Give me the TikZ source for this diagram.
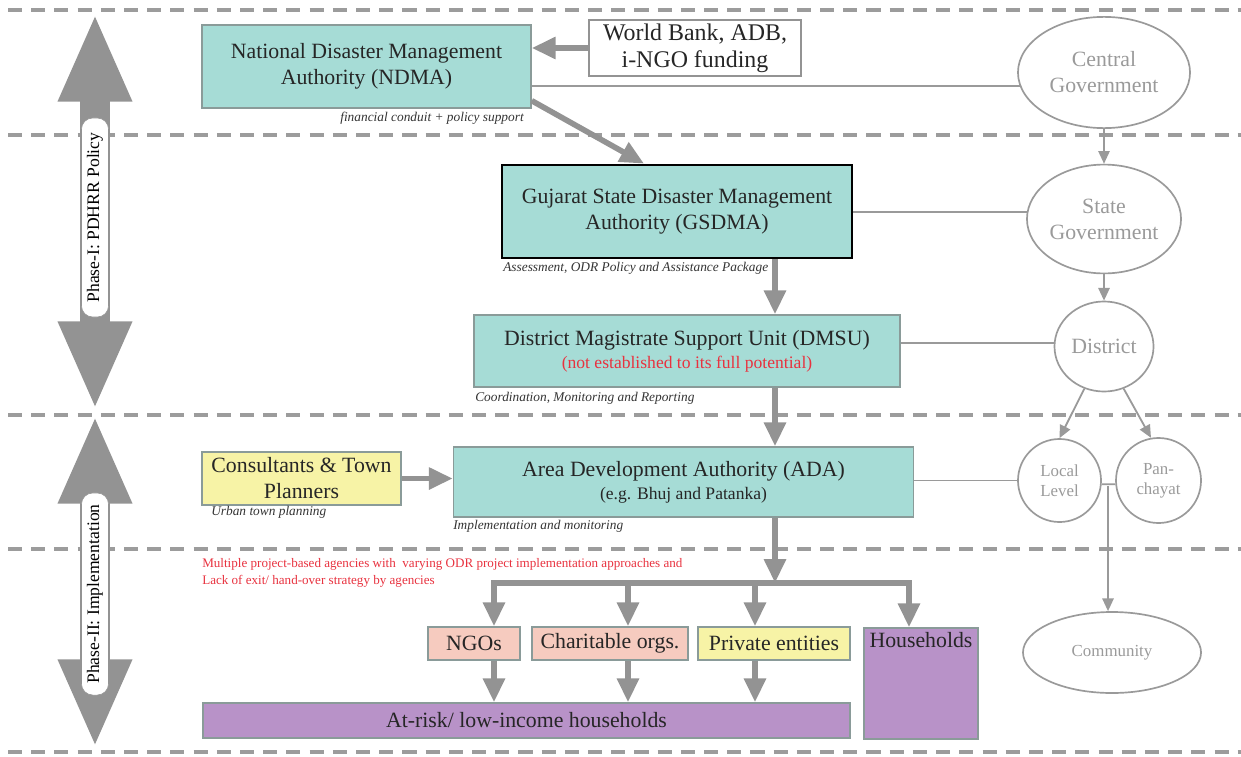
\documentclass[tikz,border=0pt]{standalone}
\usepackage{fontspec}
\setmainfont{Liberation Serif}
\usetikzlibrary{arrows.meta,shapes.geometric}
\definecolor{tealbox}{HTML}{A6DCD6}
\definecolor{yelbox}{HTML}{F7F3A6}
\definecolor{pinkbox}{HTML}{F6CBBF}
\definecolor{purpbox}{HTML}{B892C8}
\definecolor{arrgray}{HTML}{939393}
\definecolor{dashgray}{HTML}{9C9C9C}
\definecolor{ellgray}{HTML}{9A9A9A}
\definecolor{redtxt}{HTML}{E8323F}
\definecolor{boxline}{HTML}{8A9B99}
\begin{document}
\begin{tikzpicture}[x=0.025cm,y=-0.025cm,
box/.style={draw=boxline,line width=1pt,fill=tealbox,align=center,text=black!85,font=\fontsize{15.5}{18.5}\selectfont,inner sep=0pt},
ell/.style={draw=ellgray,ellipse,line width=1.2pt,align=center,text=ellgray,font=\fontsize{15.5}{18.5}\selectfont,inner sep=0pt},
note/.style={font=\fontsize{9.5}{11}\selectfont\itshape,text=black!80,inner sep=0pt},
fat/.style={draw=arrgray,line width=4pt,-{Triangle[length=17pt,width=15pt]}},
thinline/.style={draw=ellgray,line width=1.3pt},
thinarr/.style={thinline,-{Triangle[length=9pt,width=8pt]}},
divline/.style={draw=dashgray,line width=2.8pt,dash pattern=on 10pt off 6.5pt},
phase/.style={draw=arrgray,line width=21pt,{Triangle[length=63pt,width=48pt]}-{Triangle[length=63pt,width=48pt]}},
phaselbl/.style={draw=arrgray,fill=white,rounded corners=8pt,rotate=90,font=\fontsize{12.5}{15}\selectfont,minimum height=0.675cm,inner sep=0pt}]
\useasboundingbox (0,0) rectangle (1241,756);
\foreach \y in {10,135,415,549,752} \draw[divline] (8,\y) -- (1241,\y);
\draw[phase] (95,410) -- (95,13);
\node[phaselbl,minimum width=4.975cm] (P1) at (95,217.5) {Phase-I: PDHRR Policy};
\draw[phase] (95,415) -- (95,748);
\node[phaselbl,minimum width=5.05cm] (P2) at (95,594) {Phase-II: Implementation};
\node[box,minimum width=8.225cm,minimum height=2.075cm] (NDMA) at (366.5,66.5) {National Disaster Management\\Authority (NDMA)};
\node[box,fill=white,draw=arrgray,font=\fontsize{17}{19.5}\selectfont,minimum width=5.3cm,minimum height=1.4cm] (WB) at (695,48) {World Bank, ADB,\\i-NGO funding};
\node[ell,minimum width=4.3cm,minimum height=2.78cm] (CG) at (1104,72.5) {Central\\Government};
\node[box,draw=black,line width=2pt,minimum width=8.75cm,minimum height=2.325cm] (GSDMA) at (677,211.5) {Gujarat State Disaster Management\\Authority (GSDMA)};
\node[ell,minimum width=3.55cm,minimum height=2.72cm] (SG) at (1104,219) {State\\Government};
\node[box,minimum width=10.65cm,minimum height=1.8cm] (DMSU) at (687,351) {District Magistrate Support Unit (DMSU)\\[-2pt]{\fontsize{12.5}{15}\selectfont\color{redtxt}(not established to its full potential)}};
\node[ell,minimum width=2.475cm,minimum height=2.25cm] (DIST) at (1104,346.5) {District};
\node[box,minimum width=11.5cm,minimum height=1.75cm] (ADA) at (683.5,482) {Area Development Authority (ADA)\\[-2pt]{\fontsize{12.5}{15}\selectfont (e.g. Bhuj and Patanka)}};
\node[box,fill=yelbox,minimum width=4.975cm,minimum height=1.325cm] (CONS) at (301.5,478.5) {Consultants \& Town\\Planners};
\node[ell,minimum width=2.075cm,minimum height=2.075cm,font=\fontsize{12}{14}\selectfont] (LOC) at (1059.5,480.5) {Local\\Level};
\node[ell,minimum width=2.125cm,minimum height=2.125cm,font=\fontsize{12}{14}\selectfont] (PAN) at (1158.5,480.5) {Pan-\\chayat};
\node[ell,minimum width=4.45cm,minimum height=2.025cm,font=\fontsize{12}{14}\selectfont] (COM) at (1112,652.5) {Community};
\node[box,fill=pinkbox,minimum width=2.3cm,minimum height=0.825cm] (NGO) at (474,643.5) {NGOs};
\node[box,fill=pinkbox,minimum width=3.9cm,minimum height=0.825cm] (CHAR) at (610,643.5) {Charitable orgs.};
\node[box,fill=yelbox,minimum width=3.8cm,minimum height=0.825cm] (PRIV) at (774,643.5) {Private entities};
\node[box,fill=purpbox,minimum width=2.85cm,minimum height=2.775cm,text height=11pt,text depth=62pt] (HH) at (921,683.5) {Households};
\node[box,fill=purpbox,minimum width=16.175cm,minimum height=0.875cm] (RISK) at (526.5,720.5) {At-risk/ low-income households};
\node[note,anchor=east] (N1) at (524,118) {financial conduit + policy support};
\node[note,anchor=west] (N2) at (503,268) {Assessment, ODR Policy and Assistance Package};
\node[note,anchor=west] (N3) at (475,398) {Coordination, Monitoring and Reporting};
\node[note,anchor=west] (N4) at (453,526) {Implementation and monitoring};
\node[note,anchor=west] (N5) at (211,512) {Urban town planning};
\node[anchor=north west,align=left,text=redtxt,font=\fontsize{9.3}{12}\selectfont,inner sep=0pt] (RED) at (202,558) {Multiple project-based agencies with\ \ varying ODR project implementation approaches and\\Lack of exit/ hand-over strategy by agencies};
\draw[fat] (WB.west) -- (NDMA.east |- WB.west);
\draw[thinline] (NDMA.east |- CG.189) -- (CG.189);
\draw[fat] ([yshift=0.2cm]NDMA.south east) -- ([xshift=-0.825cm]GSDMA.north);
\draw[thinarr] (CG) -- (SG);
\draw[thinline] (GSDMA.east |- SG.175) -- (SG.175);
\coordinate (spine) at (775,0);
\draw[fat] (GSDMA.south -| spine) -- (DMSU.north -| spine);
\draw[thinarr] (SG) -- (DIST);
\draw[thinline] (DMSU.east |- DIST.176) -- (DIST.176);
\draw[fat] (DMSU.south -| spine) -- (ADA.north -| spine);
\draw[thinarr] (DIST.245) -- (LOC.north);
\draw[thinarr] (DIST.295) -- (PAN.100);
\draw[fat] (CONS.east) -- (ADA.west |- CONS.east);
\draw[thinline] (ADA.east |- LOC.west) -- (LOC.west);
\draw[thinline] (LOC.355) -- (PAN.185);
\coordinate (lp) at (1108,486);
\draw[thinarr] (lp) -- (lp |- COM.north);
\coordinate (b1) at (494,583);
\coordinate (b2) at (628,583);
\coordinate (b3) at (755,583);
\coordinate (b4) at (909,583);
\coordinate (bm) at (775,583);
\draw[fat] (ADA.south -| bm) -- (bm);
\draw[fat] (b4) -- (b1) -- (b1 |- NGO.north);
\draw[fat] (b1) -- (b4) -- (b4 |- HH.north);
\draw[fat] (b2) -- (b2 |- CHAR.north);
\draw[fat] (b3) -- (b3 |- PRIV.north);
\draw[fat] (NGO.south -| b1) -- (b1 |- RISK.north);
\draw[fat] (CHAR.south -| b2) -- (b2 |- RISK.north);
\draw[fat] (PRIV.south -| b3) -- (b3 |- RISK.north);
\end{tikzpicture}
\end{document}
